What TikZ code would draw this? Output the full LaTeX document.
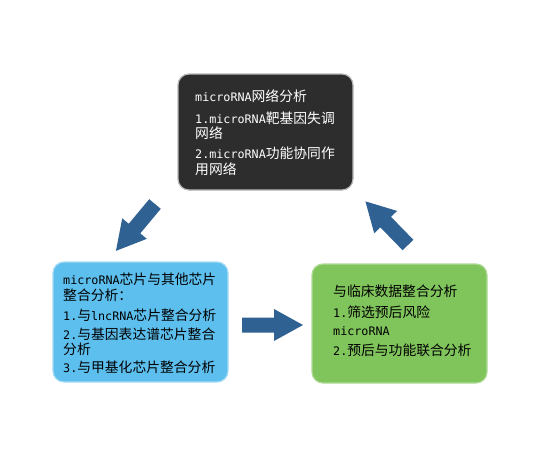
\documentclass[tikz,border=0pt]{standalone}
\usepackage{fontspec}
\setmainfont{Noto Sans CJK SC}
\newfontfamily\lat{DejaVu Sans Mono}[Scale=0.85]
\definecolor{darkbox}{HTML}{2D2D2D}
\definecolor{darkedge}{HTML}{B8B8B8}
\definecolor{bluebox}{HTML}{5DBFEE}
\definecolor{blueedge}{HTML}{A6DBF5}
\definecolor{greenbox}{HTML}{80C45C}
\definecolor{greenedge}{HTML}{B0DA98}
\definecolor{arrowblue}{HTML}{2F6193}
\tikzset{
  panel/.style={draw, line width=1.2pt, rounded corners=11pt, inner sep=0pt},
  paneltext/.style={anchor=north west, inner sep=0pt, align=left, font=\fontsize{13.8}{15.6}\selectfont},
  blockarrow/.pic={\fill[arrowblue] (0,-7.5) -- (32,-7.5) -- (32,-16) -- (61,0) -- (32,16) -- (32,7.5) -- (0,7.5) -- cycle;}
}
\begin{document}
\begin{tikzpicture}[x=1pt,y=-1pt]
\useasboundingbox[fill=white] (0,0) rectangle (554,461);
% panels
\node[panel, fill=darkbox, draw=darkedge, minimum width=175pt, minimum height=116pt] (top) at (265.5,132) {};
\node[panel, fill=bluebox, draw=blueedge, minimum width=175pt, minimum height=120pt] (left) at (140.5,322) {};
\node[panel, fill=greenbox, draw=greenedge, minimum width=175pt, minimum height=119pt] (right) at (399.5,323.5) {};
% texts
\node[paneltext, text=white] (toptext) at (195,90)
  {{\lat microRNA}网络分析\\[5.7pt]
   {\lat 1.microRNA}靶基因失调\\
   网络\\[4.2pt]
   {\lat 2.microRNA}功能协同作\\
   用网络};
\node[paneltext, text=black] (lefttext) at (63,273)
  {{\lat microRNA}芯片与其他芯片\\
   整合分析：\\[4.2pt]
   {\lat 1.}与{\lat lncRNA}芯片整合分析\\[3.2pt]
   {\lat 2.}与基因表达谱芯片整合\\
   分析\\[2.2pt]
   {\lat 3.}与甲基化芯片整合分析};
\node[paneltext, text=black] (righttext) at (333,285)
  {与临床数据整合分析\\[5.2pt]
   {\lat 1.}筛选预后风险\\[2.2pt]
   {\lat microRNA}\\[4.2pt]
   {\lat 2.}预后与功能联合分析};
% arrows
\coordinate (a1) at (155,204);
\coordinate (a2) at (242,325);
\coordinate (a3) at (408,245);
\pic[rotate=230.2] at (a1) {blockarrow};
\pic[rotate=0] at (a2) {blockarrow};
\pic[rotate=134.3] at (a3) {blockarrow};
\end{tikzpicture}
\end{document}
